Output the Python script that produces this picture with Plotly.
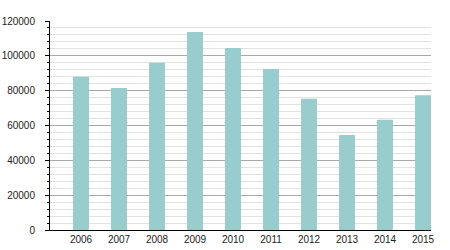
import plotly.graph_objects as go

years = ["2006", "2007", "2008", "2009", "2010", "2011", "2012", "2013", "2014", "2015"]
values = [88000, 81500, 96000, 113700, 104500, 92400, 75400, 54600, 63300, 77300]

fig = go.Figure(go.Bar(x=years, y=values, marker_color="#99cccc", width=0.42,
                       marker_line_width=0))
fig.update_layout(
    width=450, height=250,
    margin=dict(l=50, r=19, t=21, b=20, autoexpand=False),
    paper_bgcolor="white", plot_bgcolor="white",
    font=dict(family="Liberation Sans", size=10, color="#222"),
    showlegend=False, bargap=0.58,
)
fig.update_xaxes(type="category", range=[-0.816, 9.21], showline=True, linecolor="black",
                 linewidth=1, ticks="", showgrid=False, tickfont=dict(size=10),
                 automargin=False)
fig.update_yaxes(range=[0, 120000], dtick=20000, showline=True, linecolor="black", linewidth=1,
                 ticks="outside", ticklen=4, tickcolor="black", showgrid=True,
                 gridcolor="#a8a8a8", gridwidth=1, zeroline=False, tickformat="d",
                 ticklabelstandoff=8, automargin=False,
                 minor=dict(dtick=4000, showgrid=True, gridcolor="#e2e2e2", ticks="outside",
                            ticklen=2, tickcolor="black"))
fig.write_html("out.html")
